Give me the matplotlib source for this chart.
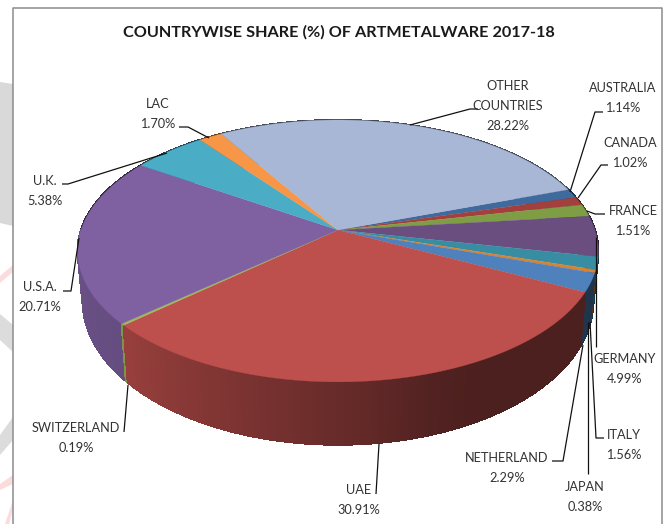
import numpy as np
import matplotlib
matplotlib.use("Agg")
import matplotlib.pyplot as plt
from matplotlib.collections import PolyCollection

plt.rcParams['font.family'] = ['Lato', 'DejaVu Sans']

# clockwise from the back right of the pie
countries = ["AUSTRALIA", "CANADA", "FRANCE", "GERMANY", "ITALY", "JAPAN", "NETHERLAND",
             "UAE", "SWITZERLAND", "U.S.A.", "U.K.", "LAC", "OTHER\nCOUNTRIES"]
shares = [1.14, 1.02, 1.51, 4.99, 1.56, 0.38, 2.29, 30.91, 0.19, 20.71, 5.38, 1.70, 28.22]
colors = ["#3f6a9e", "#a33f3d", "#7f9d45", "#6a4e80", "#388da3", "#d9822f", "#4f81bd",
          "#bd4f4c", "#9bbb59", "#7f60a0", "#4bacc6", "#f79646", "#a8b7d6"]

# label centres and leader lines, in pixels
label_pos = [(623, 98), (630, 153), (633, 221), (625, 369), (624, 445), (585, 497), (507, 468),
             (359, 500), (76, 438), (40, 297), (45, 191), (158, 114), (508, 106)]
leaders = [[(570, 192), (595, 112), (603, 112)],
           [(578, 198), (601, 165), (608, 165)],
           [(587, 211), (595, 214), (605, 214)],
           [(596, 237), (596, 347)],
           [(590, 322), (596, 438), (604, 438)],
           [(588, 322), (588, 474)],
           [(583, 345), (563, 461), (552, 461)],
           [(379, 444), (376, 494)],
           [(128, 385), (124, 432)],
           [(79, 238), (71, 291), (63, 291)],
           [(167, 153), (68, 184), (62, 184)],
           [(209, 138), (188, 127), (179, 127)],
           [(410, 125), (470, 109), (478, 109)]]

W, H = 669, 524
start_angle = 19.5
persp = 0.16


def project(t, cx, cy, a, b):
    # circle point at angle t seen with a little perspective
    t = np.radians(t)
    s = 1 / (1 + persp * np.sin(t))
    return np.column_stack([cx + a * np.cos(t) * s, cy - b * np.sin(t) * s])


def top(t):
    return project(t, 338, 230, 257, 127.6)


def bottom(t):
    return project(t, 338, 278, 252, 140)


def wall_shade(t):
    t = (t + 180) % 360 - 180
    return np.interp(t, [-180, -137, -110, -90, -70, -60, 0], [0.85, 0.8, 0.66, 0.55, 0.42, 0.4, 0.4])


fig = plt.figure(figsize=(W / 100, H / 100), dpi=100)
ax = fig.add_axes([0, 0, 1, 1])
ax.set_xlim(0, W)
ax.set_ylim(H, 0)
ax.axis("off")

# faint page artwork showing beside the chart box
ax.fill([0, 13, 13, 0], [82, 84, 226, 223], color="#d9d9d9", lw=0)
ax.fill([0, 13, 13, 0], [314, 325, 352, 340], color="#dcdcdc", lw=0)
ax.fill([0, 13, 13, 0], [435, 417, 440, 455], color="#dcdcdc", lw=0)
ax.fill([0, 13, 13, 0], [276, 265, 272, 283], color="#fbdcdc", lw=0)
ax.fill([0, 13, 13, 0], [484, 475, 484, 490], color="#fbdcdc", lw=0)
ax.fill([5, 13, 13, 9], [524, 500, 510, 524], color="#fbdcdc", lw=0)
ax.plot([12.5, 12.5, 662, 662], [524, 7.5, 7.5, 524], color="#8c8c8c", lw=1.1)

edges = start_angle - np.cumsum([0] + shares) * 3.6

# side wall, built from narrow strips and painted back to front
strips = []
for i, color in enumerate(colors):
    base = np.array(matplotlib.colors.to_rgb(color))
    n = max(2, int((edges[i] - edges[i + 1]) / 0.5))
    ts = np.linspace(edges[i], edges[i + 1], n + 1)
    up, down = top(ts), bottom(ts)
    for j in range(n):
        mid = (ts[j] + ts[j + 1]) / 2
        quad = [up[j], up[j + 1], down[j + 1], down[j]]
        strips.append((-np.sin(np.radians(mid)), quad, base * wall_shade(mid)))
strips.sort(key=lambda s: s[0])
# no antialiasing here, otherwise the seams between strips show up as stripes
ax.add_collection(PolyCollection([s[1] for s in strips], facecolors=[s[2] for s in strips],
                                 edgecolors=[s[2] for s in strips], linewidths=0.8,
                                 antialiaseds=False))

# top face
for i, color in enumerate(colors):
    ts = np.linspace(edges[i], edges[i + 1], 120)
    outline = np.vstack([[(338, 230)], top(ts)])
    ax.fill(outline[:, 0], outline[:, 1], color=color, lw=0.2)

for pts in leaders:
    xs, ys = zip(*pts)
    ax.plot(xs, ys, color="#111111", lw=0.9, solid_capstyle="butt")

for name, share, (x, y) in zip(countries, shares, label_pos):
    ax.text(x, y, f"{name}\n{share:.2f}%", ha="center", va="center", fontsize=9.2,
            color="#333333", linespacing=1.75)

ax.text(339, 32, "COUNTRYWISE SHARE (%) OF ARTMETALWARE 2017-18", ha="center", va="center",
        fontsize=11.7, fontweight="bold", color="#1a1a1a")

fig.savefig("out.png", dpi=100, facecolor="white")
